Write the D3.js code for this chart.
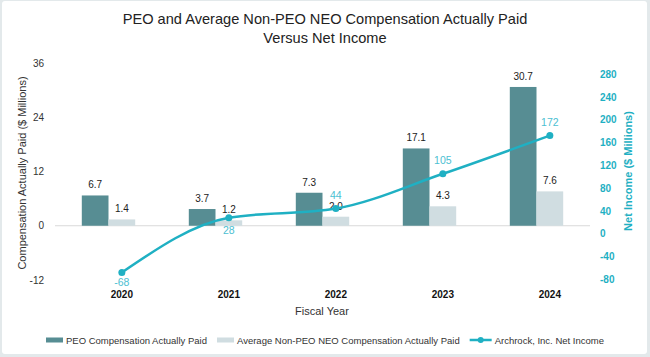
<!DOCTYPE html>
<html>
<head>
<meta charset="utf-8">
<script src="https://cdn.jsdelivr.net/npm/d3@7"></script>
<style>
  html, body { margin: 0; padding: 0; background: #e3e9eb; }
  svg { display: block; font-family: "Liberation Sans", Arial, Helvetica, sans-serif; }
</style>
</head>
<body>
<svg id="chart" width="650" height="357"></svg>
<script>
const years = ["2020", "2021", "2022", "2023", "2024"];
const peoCap = [6.7, 3.7, 7.3, 17.1, 30.7];
const neoCap = [1.4, 1.2, 2.0, 4.3, 7.6];
const netIncome = [-68, 28, 44, 105, 172];
const leftTicks = [-12, 0, 12, 24, 36];
const rightTicks = [-80, -40, 0, 40, 80, 120, 160, 200, 240, 280];
const seriesNames = ["PEO Compensation Actually Paid", "Average Non-PEO NEO Compensation Actually Paid", "Archrock, Inc. Net Income"];

const C_PEO = "#578d93", C_NEO = "#d0dde1", C_LINE = "#1fb0c3", C_LINE_LBL = "#4cc0d2";
const fmt = d => String(d);

const svg = d3.select("#chart");
svg.append("rect").attr("x", 2).attr("y", 1).attr("width", 645).attr("height", 353)
  .attr("rx", 3).attr("fill", "#ffffff");

const x = d3.scaleBand().domain(years).range([55, 590]).padding(0);
const yL = d3.scaleLinear().domain([-12, 36]).range([280, 63]);
const yR = d3.scaleLinear().domain([-80, 280]).range([279.3, 74]);
const bw = 26.7;
const cx = d => x(d) + x.bandwidth() / 2;

// title
const title = svg.append("text").attr("text-anchor", "middle").attr("fill", "#222")
  .style("font-size", "14.6px");
title.append("tspan").attr("x", 325).attr("y", 24).text("PEO and Average Non-PEO NEO Compensation Actually Paid");
title.append("tspan").attr("x", 325).attr("y", 43).text("Versus Net Income");

// left axis
const gL = svg.append("g").attr("transform", "translate(44,0)")
  .call(d3.axisLeft(yL).tickValues(leftTicks).tickSize(0).tickPadding(0).tickFormat(fmt));
gL.select(".domain").remove();
gL.selectAll("text").attr("fill", "#333").style("font-size", "10px").attr("font-family", null);

// right axis
const gR = svg.append("g").attr("transform", "translate(600,0)")
  .call(d3.axisRight(yR).tickValues(rightTicks).tickSize(0).tickPadding(0).tickFormat(fmt));
gR.select(".domain").remove();
gR.selectAll("text").attr("fill", C_LINE).style("font-size", "10px").style("font-weight", "bold").attr("font-family", null);

// axis titles
svg.append("text").attr("transform", "translate(26,173) rotate(-90)").attr("text-anchor", "middle")
  .attr("fill", "#333").style("font-size", "11px").text("Compensation Actually Paid ($ Millions)");
svg.append("text").attr("transform", "translate(632,171) rotate(-90)").attr("text-anchor", "middle")
  .attr("fill", C_LINE).style("font-size", "11px").style("font-weight", "bold").text("Net Income ($ Millions)");

// zero line
svg.append("line").attr("x1", 55).attr("x2", 590).attr("y1", yL(0)).attr("y2", yL(0))
  .attr("stroke", "#d9d9d9").attr("stroke-width", 1);

// bars
svg.append("g").selectAll("rect").data(years).join("rect")
  .attr("x", d => cx(d) - bw).attr("width", bw)
  .attr("y", (d, i) => yL(peoCap[i])).attr("height", (d, i) => yL(0) - yL(peoCap[i]))
  .attr("fill", C_PEO);
svg.append("g").selectAll("rect").data(years).join("rect")
  .attr("x", d => cx(d)).attr("width", bw)
  .attr("y", (d, i) => yL(neoCap[i])).attr("height", (d, i) => yL(0) - yL(neoCap[i]))
  .attr("fill", C_NEO);

// bar labels
svg.append("g").selectAll("text").data(years).join("text")
  .attr("x", d => cx(d) - bw / 2).attr("y", (d, i) => yL(peoCap[i]) - 7)
  .attr("text-anchor", "middle").attr("fill", "#222").style("font-size", "10px")
  .text((d, i) => peoCap[i].toFixed(1));
svg.append("g").selectAll("text").data(years).join("text")
  .attr("x", d => cx(d) + bw / 2).attr("y", (d, i) => yL(neoCap[i]) - 7)
  .attr("text-anchor", "middle").attr("fill", "#222").style("font-size", "10px")
  .text((d, i) => neoCap[i].toFixed(1));

// line
const px = d => cx(d) + bw / 2;
const line = d3.line().x((d, i) => px(years[i])).y(d => yR(d)).curve(d3.curveMonotoneX);
svg.append("path").datum(netIncome).attr("d", line).attr("fill", "none")
  .attr("stroke", C_LINE).attr("stroke-width", 2.5);
svg.append("g").selectAll("circle").data(netIncome).join("circle")
  .attr("cx", (d, i) => px(years[i])).attr("cy", d => yR(d)).attr("r", 3.5).attr("fill", C_LINE);
const lblOff = [14, 16.5, -10, -10, -10];
svg.append("g").selectAll("text").data(netIncome).join("text")
  .attr("x", (d, i) => px(years[i])).attr("y", (d, i) => yR(d) + lblOff[i])
  .attr("text-anchor", "middle").attr("fill", C_LINE_LBL).style("font-size", "10.5px")
  .text(d => fmt(d));

// x labels
svg.append("g").selectAll("text").data(years).join("text")
  .attr("x", d => px(d)).attr("y", 298).attr("text-anchor", "middle")
  .attr("fill", "#111").style("font-size", "10px").style("font-weight", "bold").text(d => d);
svg.append("text").attr("x", 322).attr("y", 315).attr("text-anchor", "middle")
  .attr("fill", "#333").style("font-size", "11px").text("Fiscal Year");

// legend
const leg = svg.append("g").attr("transform", "translate(0,340)");
let lx = 46;
const items = [
  { name: seriesNames[0], type: "bar", color: C_PEO },
  { name: seriesNames[1], type: "bar", color: C_NEO },
  { name: seriesNames[2], type: "line", color: C_LINE }
];
items.forEach((it, i) => {
  const g = leg.append("g").attr("transform", `translate(${lx},0)`);
  let sw;
  if (it.type === "bar") {
    sw = 17;
    g.append("rect").attr("x", 0).attr("y", -2.5).attr("width", sw).attr("height", 5).attr("fill", it.color);
  } else {
    sw = 22;
    g.append("line").attr("x1", 0).attr("x2", sw).attr("y1", 0).attr("y2", 0).attr("stroke", it.color).attr("stroke-width", 2.5);
    g.append("circle").attr("cx", sw / 2).attr("cy", 0).attr("r", 3).attr("fill", it.color);
  }
  const t = g.append("text").attr("x", sw + 3).attr("y", 3.5).attr("fill", "#333")
    .style("font-size", "9.5px").text(it.name);
  lx += sw + 3 + t.node().getComputedTextLength() + 10;
});
</script>
</body>
</html>
